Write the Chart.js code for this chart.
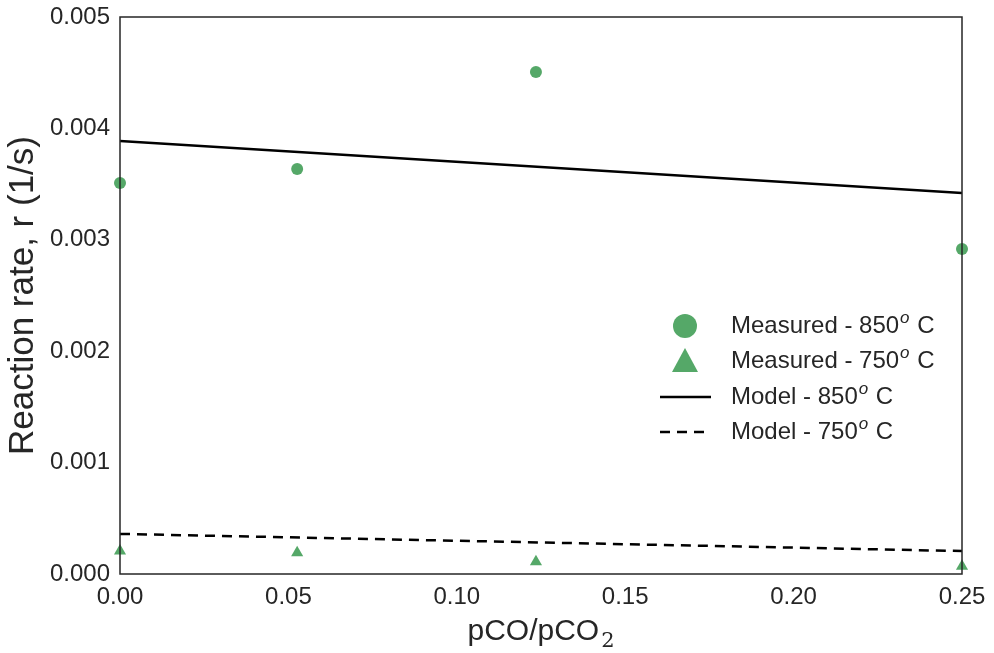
<!DOCTYPE html>
<html>
<head>
<meta charset="utf-8">
<script src="https://cdn.jsdelivr.net/npm/chart.js@4.4.0/dist/chart.umd.min.js"></script>
<style>
  html, body { margin: 0; padding: 0; background: #fff; }
  #wrap { width: 994px; height: 653px; }
</style>
</head>
<body>
<div id="wrap"><canvas id="rateChart"></canvas></div>
<script>
// pCO/pCO2 ratios and measured / model rates
const ratios = [0.0, 0.0526, 0.1235, 0.25];
const measured850 = [0.00351, 0.003636, 0.004506, 0.002917];
const measured750 = [0.000206, 0.00019, 0.00011, 0.00007];
const modelRatios = [0.0, 0.25];
const model850 = [0.003887, 0.00342];
const model750 = [0.00036, 0.000206];
const xTicks = [0, 0.05, 0.1, 0.15, 0.2, 0.25];
const yTicks = [0, 0.001, 0.002, 0.003, 0.004, 0.005];

const green = '#55a868';
const font = '"Liberation Sans", Arial, sans-serif';

function pts(xs, ys) {
    return xs.map((x, i) => ({ x: x, y: ys[i] }));
}

// draws text with a small italic "o" superscript before " C"
function degreeText(ctx, text, x, y) {
    const parts = text.split('°');
    ctx.font = '24px ' + font;
    ctx.textBaseline = 'middle';
    ctx.textAlign = 'left';
    ctx.fillStyle = '#262626';
    ctx.fillText(parts[0], x, y);
    let w = ctx.measureText(parts[0]).width;
    ctx.font = 'italic 17px ' + font;
    ctx.fillText('o', x + w + 1, y - 8);
    w += ctx.measureText('o').width + 2;
    ctx.font = '24px ' + font;
    ctx.fillText(parts[1], x + w, y);
}

const framePlugin = {
    id: 'frame',
    afterDraw(chart) {
        const ctx = chart.ctx;
        const a = chart.chartArea;
        ctx.save();
        ctx.strokeStyle = '#262626';
        ctx.lineWidth = 1.5;
        ctx.strokeRect(a.left, a.top, a.right - a.left, a.bottom - a.top);

        // x title with subscript
        ctx.fillStyle = '#262626';
        ctx.textBaseline = 'alphabetic';
        ctx.textAlign = 'left';
        ctx.font = '30px ' + font;
        const main = 'pCO/pCO';
        const mw = ctx.measureText(main).width;
        ctx.font = '21px "DejaVu Serif", serif';
        const sw = ctx.measureText('2').width;
        const cx = (a.left + a.right) / 2;
        const x0 = cx - (mw + sw + 2) / 2;
        ctx.font = '30px ' + font;
        ctx.fillText(main, x0, 640);
        ctx.font = '21px "DejaVu Serif", serif';
        ctx.fillText('2', x0 + mw + 2, 647);

        // legend
        const lx = 685, tx = 731;
        const rows = [326, 361, 397, 432];
        ctx.fillStyle = green;
        ctx.beginPath();
        ctx.arc(lx, rows[0], 12, 0, Math.PI * 2);
        ctx.fill();
        ctx.beginPath();
        ctx.moveTo(lx, rows[1] - 13);
        ctx.lineTo(lx + 13, rows[1] + 11);
        ctx.lineTo(lx - 13, rows[1] + 11);
        ctx.closePath();
        ctx.fill();
        ctx.strokeStyle = '#000';
        ctx.lineWidth = 2.5;
        ctx.beginPath();
        ctx.moveTo(660, rows[2]);
        ctx.lineTo(711, rows[2]);
        ctx.stroke();
        ctx.setLineDash([10, 7]);
        ctx.beginPath();
        ctx.moveTo(660, rows[3]);
        ctx.lineTo(711, rows[3]);
        ctx.stroke();
        ctx.setLineDash([]);
        chart.data.datasets.forEach((ds, i) => {
            degreeText(ctx, ds.label, tx, rows[i]);
        });
        ctx.restore();
    }
};

new Chart(document.getElementById('rateChart'), {
    type: 'scatter',
    data: {
        datasets: [
            {
                label: 'Measured - 850° C',
                data: pts(ratios, measured850),
                backgroundColor: green,
                borderColor: green,
                pointStyle: 'circle',
                pointRadius: 6,
                pointBorderWidth: 0,
                clip: false
            },
            {
                label: 'Measured - 750° C',
                data: pts(ratios, measured750),
                backgroundColor: green,
                borderColor: green,
                pointStyle: 'triangle',
                pointRadius: 7,
                pointBorderWidth: 0,
                clip: false
            },
            {
                label: 'Model - 850° C',
                data: pts(modelRatios, model850),
                type: 'line',
                showLine: true,
                borderColor: '#000',
                borderWidth: 2.5,
                pointRadius: 0
            },
            {
                label: 'Model - 750° C',
                data: pts(modelRatios, model750),
                type: 'line',
                showLine: true,
                borderColor: '#000',
                borderWidth: 2.5,
                borderDash: [10, 7],
                pointRadius: 0
            }
        ]
    },
    options: {
        responsive: true,
        maintainAspectRatio: false,
        animation: false,
        layout: { padding: { top: 17, right: 32, left: 0, bottom: 0 } },
        plugins: {
            legend: { display: false },
            tooltip: { enabled: false }
        },
        scales: {
            x: {
                type: 'linear',
                min: 0,
                max: 0.25,
                afterBuildTicks: s => { s.ticks = xTicks.map(v => ({ value: v })); },
                afterFit: s => { s.height = 79; s.paddingLeft = 0; s.paddingRight = 0; },
                grid: { display: false, drawTicks: false },
                border: { display: false },
                ticks: {
                    color: '#262626',
                    font: { family: font, size: 24 },
                    padding: 9,
                    maxRotation: 0,
                    callback: v => v.toFixed(2)
                }
            },
            y: {
                min: 0,
                max: 0.005,
                afterBuildTicks: s => { s.ticks = yTicks.map(v => ({ value: v })); },
                afterFit: s => { s.width = 120; s.paddingTop = 0; s.paddingBottom = 0; },
                grid: { display: false, drawTicks: false },
                border: { display: false },
                title: {
                    display: true,
                    text: 'Reaction rate, r (1/s)',
                    color: '#262626',
                    font: { family: font, size: 35 },
                    padding: { top: 2, bottom: 0 }
                },
                ticks: {
                    color: '#262626',
                    font: { family: font, size: 24 },
                    padding: 10,
                    callback: v => v.toFixed(3)
                }
            }
        }
    },
    plugins: [framePlugin]
});
</script>
</body>
</html>
